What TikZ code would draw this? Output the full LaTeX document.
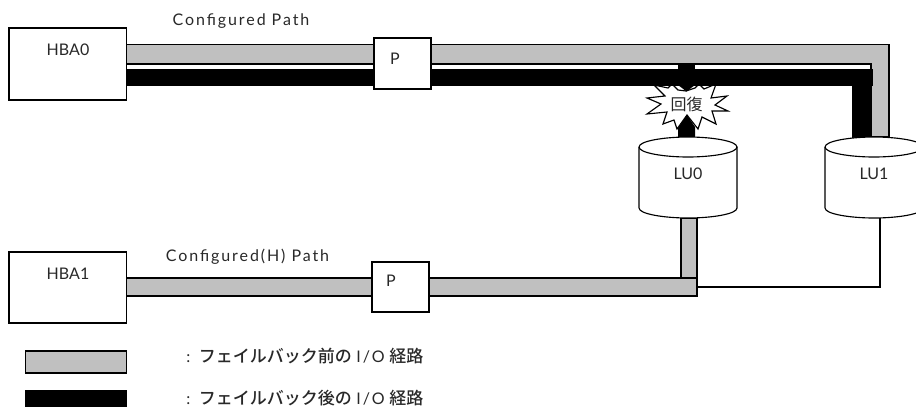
\documentclass[tikz,border=0pt]{standalone}
\usepackage{fontspec}
\setmainfont{Lato}
\newfontfamily\spaced[LetterSpace=12]{Lato}
\newfontfamily\cjk{Noto Sans CJK JP}
\newfontfamily\cjkb{Noto Sans CJK JP Medium}
\definecolor{pathgray}{RGB}{192,192,192}
\definecolor{inktext}{RGB}{40,40,40}
\tikzset{
  px/.style={x=0.75pt,y=-0.75pt},
  ln/.style={draw=black,line width=0.85pt},
  graybar/.style={ln,fill=pathgray},
  blackbar/.style={draw=none,fill=black},
  lbl/.style={font=\fontsize{12pt}{14pt}\selectfont,text=inktext,inner sep=0pt},
  spacedlbl/.style={font=\spaced\fontsize{12pt}{14pt}\selectfont,text=inktext,inner sep=0pt},
  boxed/.style={ln,fill=white,rectangle,inner sep=0pt},
}
\newcommand{\legjp}[1]{{\cjkb\fontsize{12.75pt}{14pt}\selectfont #1}}
\begin{document}
\begin{tikzpicture}[px]
\useasboundingbox (0,0) rectangle (916,407);
\clip (0,0) rectangle (916,407);
% gray configured path
\path[graybar] (126,44.5) -- (889,44.5) -- (889,137) -- (871,137) -- (871,64) -- (126,64) -- cycle;
% star
\path[draw=black,line width=0.85pt,fill=white] (686,91) -- (695,88) -- (699,84) -- (704,89) -- (716,84) -- (711,98) -- (727,96) -- (715,105) -- (728,111) -- (712,111) -- (716,124) -- (702,117) -- (698,129) -- (687,115) -- (677,129) -- (674,120) -- (663,124) -- (667,112) -- (647,114) -- (661,104) -- (647,98) -- (665,96) -- (654,85) -- (668,88) -- (672,84) -- (678,90) -- cycle;
% black path
\path[blackbar] (126,69) rectangle (873,86);
\path[blackbar] (852,69) rectangle (872,140);
\path[blackbar] (678,64) rectangle (695,86);
\path[blackbar] (678,85) -- (695,85) -- (686.5,91.5) -- cycle;
\path[blackbar] (687,115) -- (695,127) -- (695,139) -- (678,139) -- (678,128) -- cycle;
\node[inner sep=0pt,font=\cjk\fontsize{12pt}{14pt}\selectfont,text=inktext] (recover) at (686.5,104) {回復};
% boxes
\node[boxed,minimum width=88.1pt,minimum height=54pt] (hbazero) at (67.7,64) {};
\node[lbl] (hbazerot) at (68,50) {HBA0};
\node[boxed,minimum width=42.8pt,minimum height=38.2pt] (pzero) at (402.5,63.5) {};
\node[lbl] (pzerot) at (395,59) {P};
\node[spacedlbl] (cfgzero) at (241,21) {Configured Path};
% bottom path
\path[graybar] (681,218) rectangle (697,280);
\path[graybar] (126,278) rectangle (697,296);
\coordinate (lubot) at (880,218);
\coordinate (join) at (697,287);
\draw[ln] (join) -- (880,287) -- (lubot);
\node[boxed,minimum width=88.1pt,minimum height=53.2pt] (hbaone) at (67.7,287.5) {};
\node[lbl] (hbaonet) at (68,274) {HBA1};
\node[boxed,minimum width=42.8pt,minimum height=37.5pt] (pone) at (400.5,287) {};
\node[lbl] (ponet) at (391,281) {P};
\node[spacedlbl] (cfgone) at (247.5,257) {Configured(H) Path};
% cylinders
\foreach \xl/\xm/\xr/\nm in {639/688/737/LU0,825/874/923/LU1}{
  \path[ln,fill=white] (\xl,147) .. controls (\xl,141) and (\xl+25,137) .. (\xm,137) .. controls (\xr-25,137) and (\xr,141) .. (\xr,147) -- (\xr,208) .. controls (\xr,214) and (\xr-25,218) .. (\xm,218) .. controls (\xl+25,218) and (\xl,214) .. (\xl,208) -- cycle;
  \draw[ln] (\xl,147) .. controls (\xl,153) and (\xl+25,157) .. (\xm,157) .. controls (\xr-25,157) and (\xr,153) .. (\xr,147);
  \node[lbl] at (\xm,174) {\nm};
}
% legend
\path[graybar] (25.5,351) rectangle (126.5,373);
\path[blackbar] (25,390) rectangle (127,407);
\node[lbl,anchor=west] (legzero) at (186,356) {:\hspace{6.4pt}\legjp{フェイルバック前の}\hspace{3.5pt}{\spaced I/O}\hspace{3.5pt}\legjp{経路}};
\node[lbl,anchor=west] (legone) at (186,398) {:\hspace{6.4pt}\legjp{フェイルバック後の}\hspace{3.5pt}{\spaced I/O}\hspace{3.5pt}\legjp{経路}};
\end{tikzpicture}
\end{document}
